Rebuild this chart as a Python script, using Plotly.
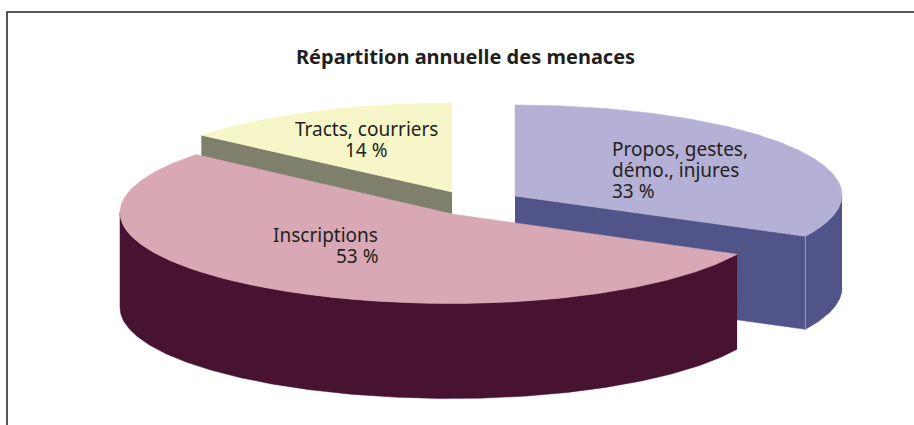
import numpy as np
import plotly.graph_objects as go

# --- data ---
title = "Répartition annuelle des menaces"
categories = [["Propos, gestes,", "démo., injures"], ["Inscriptions"], ["Tracts, courriers"]]
shares = [32.6, 53.4, 14.0]   # labels round them
colors_top = ["#B5B0D6", "#D8A9B4", "#F7F6C8"]
colors_wall = ["#515488", "#481231", "#7E806C"]

# --- projection of each exploded slice (pixels): apex, ellipse centre, radii ---
apex = [(515, 196), (452, 214), (452, 192)]
centre_y = [195, 212.5, 192]
rx_right = [327, 321, 325]
rx_left = [327, 332, 325]
ry = [90, 91, 89]
depth = [93, 95, 94]
ink = "#231F20"


def rim(i, a0, a1, n=240):
    t = np.radians(np.linspace(a0, a1, n))
    s = np.sin(t)
    rx = np.where(s >= 0, rx_right[i], rx_left[i])
    return apex[i][0] + rx * s, centre_y[i] - ry[i] * np.cos(t)


def poly(x, y, color):
    return go.Scatter(x=list(x), y=list(y), mode="lines", fill="toself", fillcolor=color,
                      line=dict(color=color, width=0.5), hoverinfo="skip", showlegend=False)


edges = np.concatenate([[0], np.cumsum(shares) / sum(shares) * 360])
fig = go.Figure()

for i in [2, 0, 1]:  # painter's order: back slices first
    a0, a1 = edges[i], edges[i + 1]
    ax, ay = apex[i]
    d = depth[i]
    xr, yr = rim(i, a0, a1)
    # radial wall at the end visible from the front
    if i == 0:
        ex, ey = xr[-1], yr[-1]
    elif i == 2:
        ex, ey = xr[0], yr[0]
    else:
        ex, ey = None, None
    if ex is not None:
        fig.add_trace(poly([ax, ex, ex, ax], [ay, ey, ey + d, ay + d], colors_wall[i]))
    # outer curved wall (only the part facing the viewer: 90..270 degrees)
    lo, hi = max(a0, 90), min(a1, 270)
    if hi > lo:
        xw, yw = rim(i, lo, hi)
        fig.add_trace(poly(np.r_[xw, xw[::-1]], np.r_[yw, yw[::-1] + d], colors_wall[i]))
    # top face
    fig.add_trace(poly(np.r_[ax, xr, ax], np.r_[ay, yr, ay], colors_top[i]))
    if i == 0:  # light seam between the radial and the curved wall
        fig.add_trace(go.Scatter(x=[xr[-1], xr[-1]], y=[yr[-1], yr[-1] + d], mode="lines",
                                 line=dict(color="#9A9CC0", width=1), hoverinfo="skip", showlegend=False))

font_family = "Noto Sans, Open Sans, sans-serif"
label_font = dict(family=font_family, size=19, color=ink)
pitch = 21
placements = [(611, 149, "left"), (379, 235, "right"), (366, 129, "center")]
for (x, y0, anchor), cat, v in zip(placements, categories, shares):
    for k, line in enumerate(cat + [f"{round(v)} %"]):
        fig.add_annotation(x=x, y=y0 + k * pitch, text=line, showarrow=False, xanchor=anchor,
                           yanchor="middle", borderpad=0, font=label_font)
fig.add_annotation(x=465.5, y=56, text=f"<b>{title}</b>", showarrow=False, xanchor="center", yanchor="middle",
                   font=dict(family=font_family, size=20, color=ink))

fig.add_shape(type="rect", x0=7, y0=12, x1=930, y1=440, line=dict(color="#222222", width=1.5),
              fillcolor="rgba(0,0,0,0)", layer="above")

fig.update_layout(
    width=914, height=425, margin=dict(l=0, r=0, t=0, b=0),
    paper_bgcolor="white", plot_bgcolor="white", showlegend=False,
    xaxis=dict(range=[0, 914], visible=False, fixedrange=True),
    yaxis=dict(range=[425, 0], visible=False, fixedrange=True),
)
fig.write_html("out.html", config=dict(displayModeBar=False), post_script="document.body.style.margin='0';")
